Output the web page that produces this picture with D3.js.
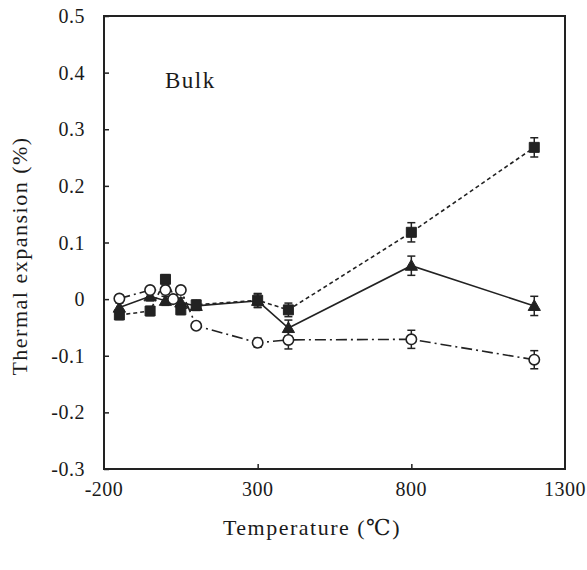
<!DOCTYPE html>
<html>
<head>
<meta charset="utf-8">
<script src="https://cdn.jsdelivr.net/npm/d3@7"></script>
<style>
  body { margin: 0; background: #fff; }
</style>
</head>
<body>
<div id="chart"></div>
<script>
// temperatures (°C) and thermal expansion (%)
const squareTemps = [-150, -50, 0, 50, 100, 300, 400, 800, 1200];
const squareValues = [-0.028, -0.021, 0.035, -0.019, -0.01, -0.002, -0.019, 0.118, 0.268];
const squareErrors = [0.008, 0.008, 0.008, 0.008, 0.008, 0.012, 0.012, 0.017, 0.017];

const triangleTemps = [-150, -50, 0, 50, 100, 300, 400, 800, 1200];
const triangleValues = [-0.015, 0.005, -0.003, -0.006, -0.012, -0.003, -0.051, 0.059, -0.012];
const triangleErrors = [0.008, 0.008, 0.008, 0.008, 0.008, 0.012, 0.014, 0.017, 0.017];

const circleTemps = [-150, -50, 0, 25, 50, 100, 300, 400, 800, 1200];
const circleValues = [0.001, 0.016, 0.016, 0.0, 0.016, -0.047, -0.077, -0.072, -0.071, -0.107];
const circleErrors = [0.006, 0.006, 0.006, 0.006, 0.006, 0.006, 0.008, 0.016, 0.016, 0.016];

const xTicks = [-200, 300, 800, 1300];
const yTicks = [-0.3, -0.2, -0.1, 0, 0.1, 0.2, 0.3, 0.4, 0.5];
const yTickLabels = ["-0.3", "-0.2", "-0.1", "0", "0.1", "0.2", "0.3", "0.4", "0.5"];

const width = 587;
const height = 570;
const plot = { left: 104, right: 565, top: 16, bottom: 469 };
const ink = "#222";
const serif = "'Liberation Serif', 'Times New Roman', 'DejaVu Serif', serif";

const svg = d3.select("#chart")
  .append("svg")
  .attr("width", width)
  .attr("height", height)
  .attr("font-family", serif);

const x = d3.scaleLinear().domain([-200, 1300]).range([plot.left, plot.right]);
const y = d3.scaleLinear().domain([-0.3, 0.5]).range([plot.bottom, plot.top]);

// axes: ticks point inward, labels drawn separately
const yAxis = d3.axisRight(y).tickValues(yTicks).tickSize(5).tickFormat("");
svg.append("g")
  .attr("transform", `translate(${plot.left},0)`)
  .call(yAxis)
  .call((g) => g.select(".domain").remove())
  .selectAll("line").attr("stroke", ink).attr("stroke-width", 1.5);

const xAxis = d3.axisTop(x).tickValues(xTicks.slice(1, -1)).tickSize(5).tickFormat("");
svg.append("g")
  .attr("transform", `translate(0,${plot.bottom})`)
  .call(xAxis)
  .call((g) => g.select(".domain").remove())
  .selectAll("line").attr("stroke", ink).attr("stroke-width", 1.5);

svg.append("rect")
  .attr("x", plot.left)
  .attr("y", plot.top)
  .attr("width", plot.right - plot.left)
  .attr("height", plot.bottom - plot.top)
  .attr("fill", "none")
  .attr("stroke", ink)
  .attr("stroke-width", 2);

const label = (sel) => sel.attr("font-family", serif).attr("fill", "#1a1a1a");

svg.selectAll(".ylab")
  .data(yTicks)
  .enter()
  .append("text")
  .attr("class", "ylab")
  .attr("x", plot.left - 19)
  .attr("y", (d) => y(d))
  .attr("dy", "0.35em")
  .attr("text-anchor", "end")
  .attr("font-size", 20)
  .attr("letter-spacing", 0.5)
  .call(label)
  .text((d, i) => yTickLabels[i]);

svg.selectAll(".xlab")
  .data(xTicks)
  .enter()
  .append("text")
  .attr("class", "xlab")
  .attr("x", (d) => x(d))
  .attr("y", plot.bottom + 27)
  .attr("text-anchor", "middle")
  .attr("font-size", 20)
  .attr("letter-spacing", 0.5)
  .call(label)
  .text((d) => String(d));

svg.append("text")
  .attr("x", 312)
  .attr("y", 535)
  .attr("text-anchor", "middle")
  .attr("font-size", 22)
  .attr("letter-spacing", 1.5)
  .call(label)
  .text("Temperature (℃)");

svg.append("text")
  .attr("transform", "rotate(-90)")
  .attr("x", -256)
  .attr("y", 27)
  .attr("text-anchor", "middle")
  .attr("font-size", 22)
  .attr("letter-spacing", 1.5)
  .call(label)
  .text("Thermal expansion (%)");

svg.append("text")
  .attr("x", 165)
  .attr("y", 88)
  .attr("font-size", 23)
  .attr("letter-spacing", 1.5)
  .call(label)
  .text("Bulk");

function drawSeries(temps, values, errors, dash, marker) {
  const data = temps.map((t, i) => ({ t, v: values[i], e: errors[i] }));
  const g = svg.append("g");

  const line = d3.line()
    .x((d) => x(d.t))
    .y((d) => y(d.v));

  g.append("path")
    .datum(data)
    .attr("fill", "none")
    .attr("stroke", ink)
    .attr("stroke-width", 1.6)
    .attr("stroke-dasharray", dash)
    .attr("d", line);

  const bars = g.selectAll(".err")
    .data(data)
    .enter()
    .append("g")
    .attr("class", "err")
    .attr("stroke", ink)
    .attr("stroke-width", 1.5);
  bars.append("line")
    .attr("x1", (d) => x(d.t)).attr("x2", (d) => x(d.t))
    .attr("y1", (d) => y(d.v + d.e)).attr("y2", (d) => y(d.v - d.e));
  bars.append("line")
    .attr("x1", (d) => x(d.t) - 4).attr("x2", (d) => x(d.t) + 4)
    .attr("y1", (d) => y(d.v + d.e)).attr("y2", (d) => y(d.v + d.e));
  bars.append("line")
    .attr("x1", (d) => x(d.t) - 4).attr("x2", (d) => x(d.t) + 4)
    .attr("y1", (d) => y(d.v - d.e)).attr("y2", (d) => y(d.v - d.e));

  const sym = d3.symbol().type(marker.type).size(marker.size);
  g.selectAll(".pt")
    .data(data)
    .enter()
    .append("path")
    .attr("class", "pt")
    .attr("transform", (d) => `translate(${x(d.t)},${y(d.v) + (marker.dy || 0)})`)
    .attr("d", sym)
    .attr("fill", marker.fill)
    .attr("stroke", ink)
    .attr("stroke-width", marker.stroke);
}

drawSeries(triangleTemps, triangleValues, triangleErrors, null,
  { type: d3.symbolTriangle, size: 65, fill: ink, stroke: 1, dy: 1 });
drawSeries(squareTemps, squareValues, squareErrors, "4,3",
  { type: d3.symbolSquare, size: 100, fill: ink, stroke: 1 });
drawSeries(circleTemps, circleValues, circleErrors, "11,4,2,4",
  { type: d3.symbolCircle, size: 85, fill: "#fff", stroke: 1.6 });
</script>
</body>
</html>
